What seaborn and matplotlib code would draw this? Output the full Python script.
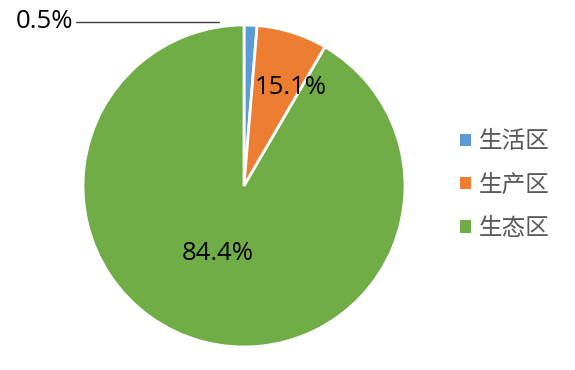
import matplotlib
matplotlib.use("Agg")
import matplotlib.pyplot as plt
import seaborn as sns
from matplotlib.patches import Patch

categories = ["生活区", "生产区", "生态区"]
shares = [1.3, 7.1, 91.6]          # wedge sizes as drawn
label_texts = ["0.5%", "15.1%", "84.4%"]
colors = ["#5B9BD5", "#ED7D31", "#70AD47"]

sns.set_theme(style="white")
plt.rcParams['font.family'] = ['Noto Sans CJK SC', 'DejaVu Sans']

W, H = 575, 370
fig = plt.figure(figsize=(W / 100, H / 100), dpi=100)
cx, cy, r = 244, 186, 161
ax = fig.add_axes([(cx - r) / W, (H - cy - r) / H, 2 * r / W, 2 * r / H])

wedges, _ = ax.pie(shares, colors=colors, startangle=90, counterclock=False,
                   radius=1, wedgeprops=dict(edgecolor="white", linewidth=2))
ax.set_xlim(-1, 1)
ax.set_ylim(-1, 1)
ax.set_aspect("equal")
ax.axis("off")

def to_data(px, py):
    return (px - cx) / r, (cy - py) / r

lab_font = dict(family=['Open Sans', 'DejaVu Sans'], fontsize=18.5, color="black")
# small slice label with leader line
x0, y0 = to_data(76, 22)
x1, y1 = to_data(219, 22)
ax.plot([x0, x1], [y0, y1], color="#404040", lw=1, clip_on=False)
tx, ty = to_data(44, 22)
ax.text(tx, ty, label_texts[0], ha="center", va="center", **lab_font)
tx, ty = to_data(291, 87)
ax.text(tx, ty, label_texts[1], ha="center", va="center", **lab_font)
tx, ty = to_data(218, 253)
ax.text(tx, ty, label_texts[2], ha="center", va="center", **lab_font)

handles = [Patch(facecolor=c, edgecolor="none") for c in colors]
fig.legend(handles, categories, loc="center left",
           bbox_to_anchor=(460 / W, 1 - 185 / H), frameon=False,
           prop=dict(family=['Noto Sans CJK SC', 'DejaVu Sans'], size=17, weight="light"),
           labelcolor="#595959", handlelength=0.45, handleheight=0.45,
           handletextpad=0.35, labelspacing=0.85, borderpad=0, borderaxespad=0)

fig.savefig("out.png", dpi=100, facecolor="white")
